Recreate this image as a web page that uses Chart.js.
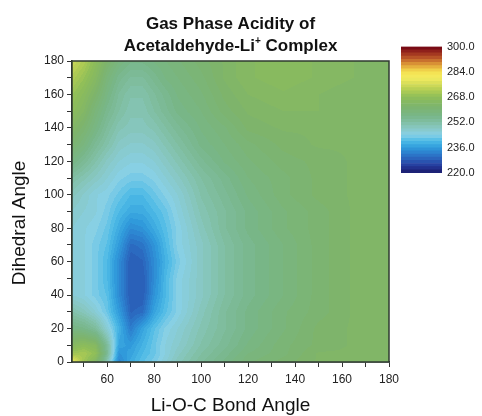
<!DOCTYPE html>
<html>
<head>
<meta charset="utf-8">
<script src="https://cdn.jsdelivr.net/npm/chart.js@4.4.1/dist/chart.umd.min.js"></script>
<style>
  html, body { margin: 0; padding: 0; background: #ffffff; }
  #wrap { position: relative; width: 482px; height: 416px; }
  #main { position: absolute; left: 0; top: 0; }
  #bar { position: absolute; left: 395px; top: 35px; }
</style>
</head>
<body>
<div id="wrap">
  <canvas id="main" width="482" height="416"></canvas>
  <canvas id="bar" width="87" height="152"></canvas>
</div>
<script>
// ---- Data (Li-O-C bond angle vs dihedral angle) ----
const bondAngles = [45, 50, 55, 60, 65, 70, 75, 80, 85, 90, 100, 110, 120, 135, 150, 165, 180];
const dihedralAngles = [0, 5, 10, 20, 30, 40, 50, 60, 70, 80, 90, 100, 110, 120, 130, 140, 150, 160, 170, 180];

// acidity (kcal/mol) per dihedral row, one value per bond angle column
const row0   = [280, 270, 264, 250, 233, 238, 241, 243, 246, 249, 253, 256, 259, 261, 263, 263, 263];
const row5   = [270, 271, 268, 254, 235, 237, 240, 242, 245, 248, 252, 255, 258, 260, 263, 263, 263];
const row10  = [265, 267, 265, 253, 237, 236, 239, 242, 245, 247, 251, 254, 257, 260, 262, 263, 263];
const row20  = [257, 256, 253, 246, 239, 232, 237, 241, 244, 246, 250, 253, 256, 259, 262, 263, 263];
const row30  = [251, 249, 246, 242, 236, 229, 230, 237, 241, 244, 249, 253, 256, 259, 261, 263, 263];
const row40  = [246, 245, 243, 241, 234, 228, 228, 235, 240, 244, 248, 252, 255, 258, 261, 263, 263];
const row50  = [246, 245, 243, 240, 234, 228, 228, 234, 240, 244, 248, 252, 255, 258, 261, 263, 263];
const row60  = [246, 245, 243, 240, 234, 228, 229, 234, 239, 243, 248, 252, 255, 258, 261, 263, 263];
const row70  = [246, 245, 243, 241, 236, 230, 231, 235, 240, 244, 248, 252, 255, 258, 261, 263, 263];
const row80  = [246, 245, 244, 242, 238, 234, 235, 238, 241, 244, 249, 253, 256, 259, 261, 263, 263];
const row90  = [247, 246, 245, 243, 240, 238, 238, 240, 242, 245, 250, 253, 256, 259, 261, 263, 263];
const row100 = [249, 247, 245, 244, 242, 240, 240, 242, 244, 246, 251, 254, 257, 260, 262, 263, 263];
const row110 = [252, 250, 248, 246, 244, 243, 243, 244, 246, 248, 252, 255, 258, 260, 262, 263, 263];
const row120 = [257, 254, 251, 248, 246, 245, 245, 246, 248, 250, 254, 257, 259, 261, 262, 263, 263];
const row130 = [261, 258, 254, 251, 248, 247, 247, 248, 250, 252, 256, 258, 260, 262, 263, 263, 263];
const row140 = [264, 261, 257, 253, 250, 249, 249, 250, 252, 254, 257, 259, 262, 263, 263, 263, 263];
const row150 = [267, 264, 259, 255, 252, 250, 250, 252, 254, 256, 258, 261, 263, 264, 264, 263, 263];
const row160 = [269, 266, 262, 257, 253, 251, 251, 253, 255, 257, 259, 262, 264, 265, 264, 263, 263];
const row170 = [272, 269, 265, 259, 255, 253, 253, 255, 257, 258, 260, 263, 265, 266, 265, 264, 263];
const row180 = [275, 272, 267, 262, 258, 256, 256, 257, 258, 259, 261, 263, 265, 266, 265, 264, 263];

const acidityRows = [row0, row5, row10, row20, row30, row40, row50, row60, row70, row80,
                     row90, row100, row110, row120, row130, row140, row150, row160, row170, row180];

const xTicks = [50, 60, 70, 80, 90, 100, 110, 120, 130, 140, 150, 160, 170, 180];
const yTicks = [0, 10, 20, 30, 40, 50, 60, 70, 80, 90, 100, 110, 120, 130, 140, 150, 160, 170, 180];
const colorbarTicks = [220, 236, 252, 268, 284, 300];
const valueMin = 220, valueMax = 300;

// ---- colour map (Origin-like rainbow) ----
const cmapStops = [
  [220, [26, 26, 106]], [224, [36, 56, 154]], [228, [42, 92, 182]], [232, [44, 124, 204]],
  [236, [48, 156, 220]], [240, [76, 186, 230]], [244, [136, 208, 230]], [248, [136, 200, 196]],
  [252, [128, 190, 162]], [256, [120, 182, 136]], [262, [125, 180, 108]], [268, [143, 190, 88]],
  [272, [176, 204, 84]], [276, [212, 220, 88]], [280, [242, 236, 96]], [284, [244, 224, 80]],
  [288, [224, 160, 56]], [292, [192, 96, 42]], [296, [154, 42, 30]], [300, [110, 0, 18]]
];
function cmap(v) {
  if (v <= cmapStops[0][0]) return cmapStops[0][1];
  for (let i = 1; i < cmapStops.length; i++) {
    if (v <= cmapStops[i][0]) {
      const [a, ca] = cmapStops[i - 1], [b, cb] = cmapStops[i];
      const t = (v - a) / (b - a);
      return [0, 1, 2].map(k => Math.round(ca[k] + (cb[k] - ca[k]) * t));
    }
  }
  return cmapStops[cmapStops.length - 1][1];
}
const FONT = "'Liberation Sans', Arial, sans-serif";

function locate(arr, v) {
  let i = 0;
  while (i < arr.length - 2 && v > arr[i + 1]) i++;
  let t = (v - arr[i]) / (arr[i + 1] - arr[i]);
  t = Math.max(0, Math.min(1, t));
  return [i, t];
}

// contour field plugin: shades the chart area from the grid through the chart's scales
const contourPlugin = {
  id: 'contour',
  beforeDatasetsDraw(chart) {
    const { ctx, chartArea: a, scales: { x, y } } = chart;
    const w = Math.round(a.right - a.left), h = Math.round(a.bottom - a.top);
    const off = document.createElement('canvas');
    off.width = w; off.height = h;
    const octx = off.getContext('2d');
    const img = octx.createImageData(w, h);
    const colIdx = [];
    for (let px = 0; px < w; px++) colIdx.push(locate(bondAngles, x.getValueForPixel(a.left + px + 0.5)));
    for (let py = 0; py < h; py++) {
      const [j, ty] = locate(dihedralAngles, y.getValueForPixel(a.top + py + 0.5));
      const r0 = acidityRows[j], r1 = acidityRows[j + 1];
      for (let px = 0; px < w; px++) {
        const [i, tx] = colIdx[px];
        const v0 = r0[i] + (r0[i + 1] - r0[i]) * tx;
        const v1 = r1[i] + (r1[i + 1] - r1[i]) * tx;
        let v = v0 + (v1 - v0) * ty;
        v = Math.floor(v / 1.2) * 1.2 + 0.6;
        const c = cmap(v);
        const k = (py * w + px) * 4;
        img.data[k] = c[0]; img.data[k + 1] = c[1]; img.data[k + 2] = c[2]; img.data[k + 3] = 255;
      }
    }
    octx.putImageData(img, 0, 0);
    ctx.save();
    ctx.drawImage(off, a.left, a.top);
    ctx.restore();
  },
  afterDatasetsDraw(chart) {
    const { ctx, chartArea: a } = chart;
    ctx.save();
    ctx.strokeStyle = '#2f3a30';
    ctx.lineWidth = 1.5;
    ctx.strokeRect(a.left, a.top, a.right - a.left, a.bottom - a.top);
    ctx.restore();
  },
  afterDraw(chart) {
    const { ctx, chartArea: a } = chart;
    const cx = (a.left + a.right) / 2;
    ctx.save();
    ctx.fillStyle = '#111';
    ctx.textBaseline = 'alphabetic';
    ctx.font = 'bold 17px ' + FONT;
    ctx.textAlign = 'center';
    ctx.fillText('Gas Phase Acidity of', cx, 29);
    const p1 = 'Acetaldehyde-Li', p2 = ' Complex', sup = '+';
    const w1 = ctx.measureText(p1).width, w2 = ctx.measureText(p2).width;
    ctx.font = 'bold 10px ' + FONT;
    const ws = ctx.measureText(sup).width;
    const start = cx - (w1 + ws + w2) / 2;
    ctx.textAlign = 'left';
    ctx.font = 'bold 17px ' + FONT;
    ctx.fillText(p1, start, 51);
    ctx.font = 'bold 10px ' + FONT;
    ctx.fillText(sup, start + w1, 44);
    ctx.font = 'bold 17px ' + FONT;
    ctx.fillText(p2, start + w1 + ws, 51);
    // y-axis title
    ctx.translate(20, 223);
    ctx.rotate(-Math.PI / 2);
    ctx.textAlign = 'center';
    ctx.textBaseline = 'middle';
    ctx.font = '19px ' + FONT;
    ctx.fillText('Dihedral Angle', 0, 0);
    ctx.restore();
  }
};

const gridPoints = [];
dihedralAngles.forEach((d, j) => bondAngles.forEach((b, i) => gridPoints.push({ x: b, y: d, v: acidityRows[j][i] })));

new Chart(document.getElementById('main'), {
  type: 'scatter',
  data: { datasets: [{ data: gridPoints, pointRadius: 0, pointHoverRadius: 0, showLine: false }] },
  options: {
    responsive: false,
    animation: false,
    layout: { padding: { top: 61, right: 93, bottom: 0, left: 0 } },
    plugins: { legend: { display: false }, tooltip: { enabled: false }, title: { display: false } },
    scales: {
      x: {
        type: 'linear', min: 45, max: 180,
        afterBuildTicks(s) { s.ticks = xTicks.map(v => ({ value: v })); },
        afterFit(s) { s.height = 54; },
        ticks: { font: { family: FONT, size: 12 }, color: '#222', padding: 5, maxRotation: 0, autoSkip: false,
                 callback: v => (v % 20 === 0 ? String(v) : '') },
        grid: { drawOnChartArea: false, drawTicks: true, tickLength: 5, color: '#333', lineWidth: 1 },
        border: { display: true, color: '#2f3a30', width: 1.5 },
        title: { display: true, text: 'Li-O-C Bond Angle', font: { family: FONT, size: 19 }, color: '#111',
                 padding: { top: 0, bottom: -1 } }
      },
      y: {
        type: 'linear', min: 0, max: 180,
        afterBuildTicks(s) { s.ticks = yTicks.map(v => ({ value: v })); },
        afterFit(s) { s.width = 72; },
        ticks: { font: { family: FONT, size: 12 }, color: '#222', padding: 3, autoSkip: false,
                 callback: v => (v % 20 === 0 ? String(v) : '') },
        grid: { drawOnChartArea: false, drawTicks: true, tickLength: 5, color: '#333', lineWidth: 1 },
        border: { display: true, color: '#2f3a30', width: 1.5 },
        title: { display: false }
      }
    }
  },
  plugins: [contourPlugin]
});

// ---- colour bar as a second Chart.js chart ----
const bandStarts = [];
for (let v = valueMin; v < valueMax; v += 2) bandStarts.push(v);
new Chart(document.getElementById('bar'), {
  type: 'bar',
  data: {
    labels: [''],
    datasets: bandStarts.map(v => {
      const c = cmap(v + 1);
      return { data: [[v, v + 2]], backgroundColor: `rgb(${c[0]},${c[1]},${c[2]})`,
               borderWidth: 0, barPercentage: 1, categoryPercentage: 1, grouped: false };
    })
  },
  options: {
    responsive: false,
    animation: false,
    layout: { padding: { top: 8, left: 6, bottom: 14, right: 0 } },
    plugins: { legend: { display: false }, tooltip: { enabled: false } },
    scales: {
      x: { display: false },
      y: {
        position: 'right', min: valueMin, max: valueMax,
        afterBuildTicks(s) { s.ticks = colorbarTicks.map(v => ({ value: v })); },
        afterFit(s) { s.width = 40; },
        ticks: { font: { family: FONT, size: 11 }, color: '#222', padding: 5,
                 callback: v => Number(v).toFixed(1) },
        grid: { display: false, drawTicks: false },
        border: { display: false }
      }
    }
  }
});
</script>
</body>
</html>
